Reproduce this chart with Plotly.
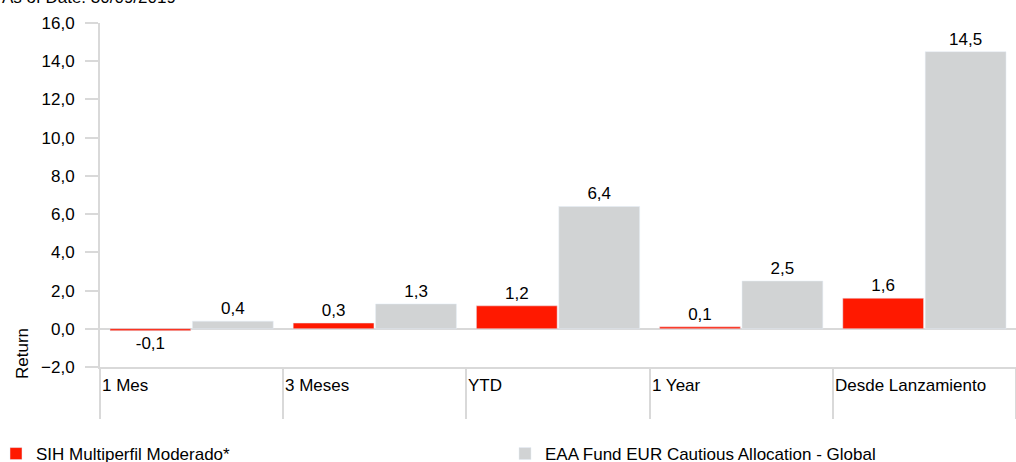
import plotly.graph_objects as go

categories = ["1 Mes", "3 Meses", "YTD", "1 Year", "Desde Lanzamiento"]
fund_name = "SIH Multiperfil Moderado*"
fund_values = [-0.1, 0.3, 1.2, 0.1, 1.6]
bench_name = "EAA Fund EUR Cautious Allocation - Global"
bench_values = [0.4, 1.3, 6.4, 2.5, 14.5]
y_ticks = [-2, 0, 2, 4, 6, 8, 10, 12, 14, 16]
title_text = "As of Date: 30/09/2019"
y_title = "Return"

RED = "#FF1900"
GREY = "#D1D3D4"
LINE = "#D9D9D9"
FONT = "Liberation Sans, Arial, sans-serif"
FS = 17

W, H = 1016, 462
ML, MR, MT, MB = 100, 0, 23, 95
PW = W - ML - MR
PH = H - MT - MB

def px_x(p):
    return (p - ML) / PW

def px_y(p):
    return (H - MB - p) / PH

fig = go.Figure()
fig.add_trace(go.Bar(
    x=categories, y=fund_values, name=fund_name, marker_color=RED,
    text=[f"{v:.1f}".replace(".", ",") for v in fund_values],
    textposition="outside", textfont=dict(size=FS, color="#000000", family=FONT),
    cliponaxis=False, legend="legend",
))
fig.add_trace(go.Bar(
    x=categories, y=bench_values, name=bench_name, marker_color=GREY,
    text=[f"{v:.1f}".replace(".", ",") for v in bench_values],
    textposition="outside", textfont=dict(size=FS, color="#000000", family=FONT),
    cliponaxis=False, legend="legend2",
))

annotations = []
for i, c in enumerate(categories):
    annotations.append(dict(
        x=i - 0.5, xref="x", y=px_y(385), yref="paper",
        text=c, showarrow=False, xanchor="left", yanchor="middle", xshift=0,
        font=dict(size=FS, color="#000000", family=FONT),
    ))
annotations.append(dict(
    x=px_x(22), xref="paper", y=px_y(354), yref="paper", text=y_title,
    textangle=-90, showarrow=False, xanchor="center", yanchor="middle",
    font=dict(size=FS, color="#000000", family=FONT),
))
annotations.append(dict(
    x=px_x(0), xref="paper", y=px_y(9), yref="paper", text=title_text,
    showarrow=False, xanchor="left", yanchor="bottom",
    font=dict(size=FS, color="#000000", family=FONT),
))

legend_common = dict(
    orientation="h", xref="paper", yref="paper",
    xanchor="left", y=px_y(436), yanchor="top",
    font=dict(size=FS, color="#000000", family=FONT),
    itemwidth=30, bgcolor="rgba(0,0,0,0)",
)

fig.update_layout(
    width=W, height=H,
    margin=dict(l=ML, r=MR, t=MT, b=MB, pad=0, autoexpand=False),
    paper_bgcolor="white", plot_bgcolor="white",
    separators=",.",
    barmode="group", bargap=0.1, bargroupgap=0.02,
    font=dict(family=FONT, size=FS, color="#000000"),
    showlegend=True,
    legend=dict(x=px_x(-4), **legend_common),
    legend2=dict(x=px_x(505), **legend_common),
    annotations=annotations,
)
fig.update_xaxes(
    type="category", range=[-0.5, len(categories) - 0.5], automargin=False,
    showticklabels=False, ticks="outside", tickson="boundaries",
    ticklen=50, tickwidth=2, tickcolor=LINE,
    showline=True, linecolor=LINE, linewidth=2, showgrid=False, zeroline=False,
)
fig.update_yaxes(
    range=[-2, 16], tickvals=y_ticks, tickformat=".1f", automargin=False,
    ticks="outside", ticklen=13, tickwidth=2, tickcolor=LINE,
    ticklabelstandoff=7,
    showline=True, linecolor=LINE, linewidth=2, showgrid=False, zeroline=True,
    zerolinecolor=LINE, zerolinewidth=2,
    tickfont=dict(size=FS, color="#000000", family=FONT),
)

fig.write_html(
    "out.html",
    config={"displayModeBar": False},
    post_script="document.body.style.margin='0';document.body.style.overflow='hidden';",
)
